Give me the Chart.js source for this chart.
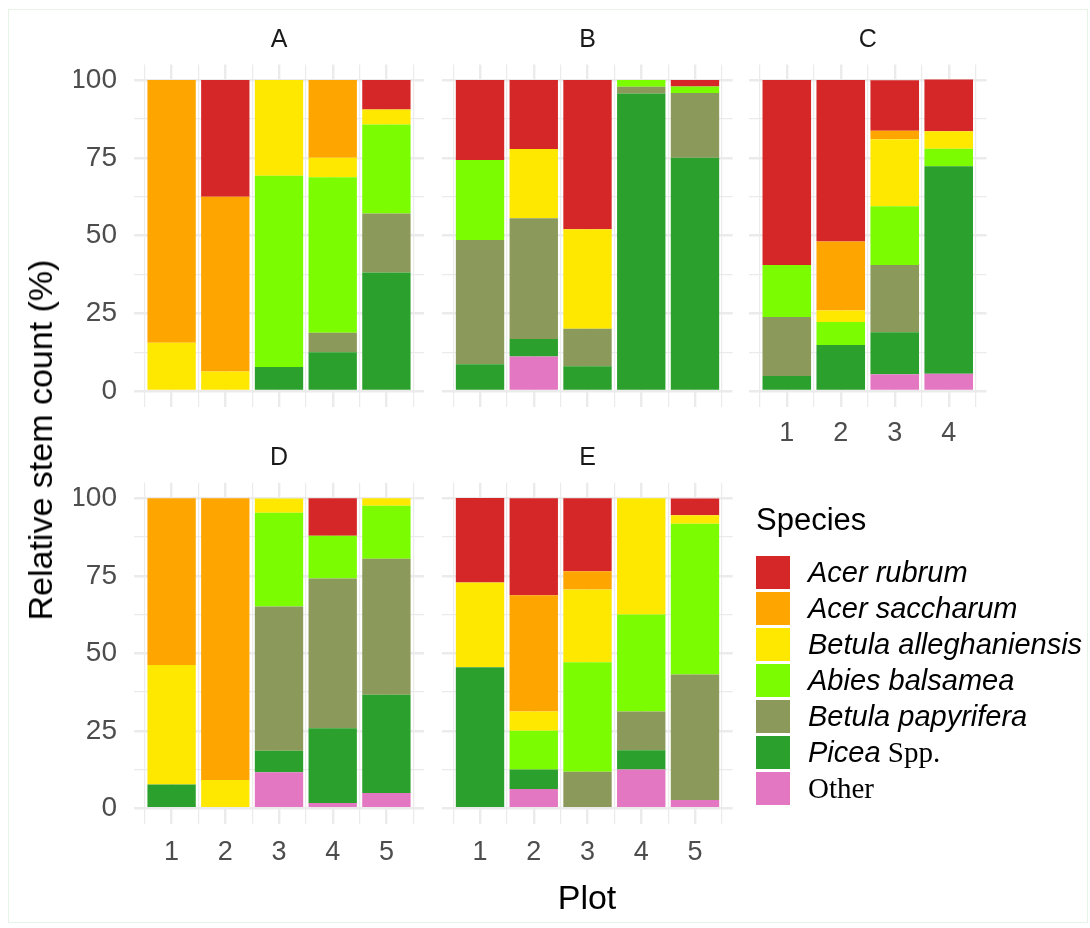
<!DOCTYPE html>
<html>
<head>
<meta charset="utf-8">
<script src="https://cdn.jsdelivr.net/npm/chart.js@4.4.1/dist/chart.umd.min.js"></script>
<style>
  body { margin: 0; background: #fff; }
  #wrap { position: relative; width: 1090px; height: 928px; overflow: hidden; font-family: "Liberation Sans", Arial, sans-serif; }
  #frame { position: absolute; left: 8px; top: 9px; width: 1078px; height: 912px; border: 1px solid #e6f4e6; }
  canvas { position: absolute; left: 0; top: 0; }
  .lbl { position: absolute; white-space: nowrap; transform: translate(-50%, -50%); line-height: 1; }
  .strip { font-size: 25px; color: #1a1a1a; }
  .axtitle { font-size: 34px; color: #000; }
  #legend { position: absolute; left: 756px; top: 505px; }
  #legend .ttl { font-size: 31px; color: #000; height: 49px; line-height: 30px; }
  #legend .row { display: flex; align-items: center; height: 36px; }
  #legend .key { width: 34px; height: 33px; margin-right: 18px; }
  #legend .txt { font-size: 29px; color: #000; }
  #legend .txt i { font-family: "Liberation Sans", Arial, sans-serif; }
  #legend .txt span { font-family: "Liberation Serif", "Times New Roman", serif; }
</style>
</head>
<body>
<div id="wrap"><div id="frame"></div></div>
<script>
// facets and plots
const sites = ['A', 'B', 'C', 'D', 'E'];
const plots = [[1, 2, 3, 4, 5], [1, 2, 3, 4, 5], [1, 2, 3, 4], [1, 2, 3, 4, 5], [1, 2, 3, 4, 5]];

// species (legend order, top of the stack first)
const speciesItalic = ['Acer rubrum', 'Acer saccharum', 'Betula alleghaniensis', 'Abies balsamea', 'Betula papyrifera', 'Picea', ''];
const speciesRoman = ['', '', '', '', '', ' Spp.', 'Other'];
const speciesColors = ['#D62728', '#FFA500', '#FFE800', '#7CFC00', '#8B9A5B', '#2CA02C', '#E377C2'];

// relative stem count (%) per site, per plot
const acerRubrum = [[0, 37.5, 0, 0, 9.5], [25.7, 22.2, 48, 0, 2.1], [59.5, 51.9, 16.2, 16.7], [0, 0, 0, 12.1, 0], [27.3, 31.25, 23.5, 0, 5.4]];
const acerSaccharum = [[84.5, 56.25, 0, 25, 0], [0, 0, 0, 0, 0], [0, 22.2, 2.7, 0], [53.8, 90.9, 0, 0, 0], [0, 37.5, 5.9, 0, 0]];
const betulaAllegh = [[15.5, 6.25, 30.8, 6.25, 4.8], [0, 22.2, 32, 0, 0], [0, 3.7, 21.6, 5.6], [38.5, 9.1, 4.65, 0, 2.4], [27.3, 6.25, 23.5, 37.5, 2.7]];
const abiesBalsamea = [[0, 0, 61.5, 50, 28.6], [25.7, 0, 0, 2.2, 2.1], [16.7, 7.4, 18.9, 5.6], [0, 0, 30.2, 13.8, 17.1], [0, 12.5, 35.3, 31.25, 48.6]];
const betulaPapyrifera = [[0, 0, 0, 6.25, 19.0], [40, 38.9, 12, 2.2, 20.8], [19.05, 0, 21.6, 0], [0, 0, 46.5, 48.3, 43.9], [0, 0, 11.8, 12.5, 40.5]];
const picea = [[0, 0, 7.7, 12.5, 38.1], [8.6, 5.6, 8, 95.65, 75], [4.8, 14.8, 13.5, 66.7], [7.7, 0, 7, 24.1, 31.7], [45.5, 6.25, 0, 6.25, 0]];
const other = [[0, 0, 0, 0, 0], [0, 11.1, 0, 0, 0], [0, 0, 5.4, 5.6], [0, 0, 11.6, 1.7, 4.9], [0, 6.25, 0, 12.5, 2.7]];
const seriesValues = [acerRubrum, acerSaccharum, betulaAllegh, abiesBalsamea, betulaPapyrifera, picea, other];

const yTickLabels = [0, 25, 50, 75, 100];

// panel placement in the page
const panelBoxes = [
  { L: 134, R: 424, T: 64.5, B: 406.6, yLab: true, xLab: false },
  { L: 442.4, R: 732.6, T: 64.5, B: 406.6, yLab: false, xLab: false },
  { L: 749, R: 986.5, T: 64.5, B: 406.6, yLab: false, xLab: true },
  { L: 134, R: 424, T: 482.8, B: 823.8, yLab: true, xLab: true },
  { L: 442.4, R: 732.6, T: 482.8, B: 823.8, yLab: false, xLab: true }
];

const W = 1090, H = 928;
const YAXIS_W = 60, XAXIS_H = 50;
const GRID = '#EBEBEB';
const wrap = document.getElementById('wrap');

function makeLabel(text, x, y, cls, rotate) {
  const d = document.createElement('div');
  d.className = 'lbl ' + cls;
  d.textContent = text;
  d.style.left = x + 'px';
  d.style.top = y + 'px';
  if (rotate) d.style.transform = 'translate(-50%, -50%) rotate(-90deg)';
  wrap.appendChild(d);
}

function initPanel(p) {
  const box = panelBoxes[p];
  const canvas = document.createElement('canvas');
  canvas.width = W;
  canvas.height = H;
  wrap.appendChild(canvas);

  const n = plots[p].length;
  const datasets = [];
  for (let s = seriesValues.length - 1; s >= 0; s--) {
    datasets.push({
      label: speciesItalic[s] + speciesRoman[s],
      data: plots[p].map((pl, i) => ({ x: pl, y: seriesValues[s][p][i] })),
      backgroundColor: speciesColors[s],
      borderWidth: 0,
      // ruler step is the half-unit grid, so 2 x 0.9 gives a bar 0.9 plot wide
      barPercentage: 0.9,
      categoryPercentage: 2
    });
  }

  new Chart(canvas, {
    type: 'bar',
    data: { datasets: datasets },
    options: {
      responsive: false,
      animation: false,
      devicePixelRatio: 1,
      layout: {
        padding: {
          left: box.L - YAXIS_W,
          right: W - box.R,
          top: box.T,
          bottom: H - box.B - XAXIS_H
        }
      },
      plugins: {
        legend: { display: false },
        tooltip: { enabled: false }
      },
      scales: {
        x: {
          type: 'linear',
          stacked: true,
          offset: false,
          min: 0.3,
          max: n + 0.7,
          border: { display: false },
          grid: {
            offset: false,
            color: GRID,
            drawTicks: false,
            lineWidth: ctx => (ctx.tick && Number.isInteger(ctx.tick.value)) ? 2.4 : 1.2
          },
          ticks: {
            display: box.xLab,
            stepSize: 0.5,
            includeBounds: false,
            autoSkip: false,
            maxRotation: 0,
            padding: p === 2 ? 11 : 13,
            color: '#4D4D4D',
            font: { family: 'Liberation Sans', size: 27 },
            callback: v => Number.isInteger(v) ? String(v) : ''
          },
          afterFit: s => { s.height = XAXIS_H; }
        },
        y: {
          stacked: true,
          min: -5,
          max: 105,
          border: { display: false },
          grid: {
            color: GRID,
            drawTicks: false,
            lineWidth: ctx => (ctx.tick && ctx.tick.value % 25 === 0) ? 2.4 : 1.2
          },
          ticks: {
            display: box.yLab,
            stepSize: 12.5,
            includeBounds: false,
            autoSkip: false,
            padding: 17,
            color: '#4D4D4D',
            font: { family: 'Liberation Sans', size: 28 },
            callback: v => yTickLabels.includes(v) ? String(v) : ''
          },
          afterFit: s => { s.width = YAXIS_W; }
        }
      }
    }
  });

  makeLabel(sites[p], (box.L + box.R) / 2, box.T - 27, 'strip');
}

function buildLegend() {
  const lg = document.createElement('div');
  lg.id = 'legend';
  let html = '<div class="ttl">Species</div>';
  speciesItalic.forEach((name, i) => {
    const it = name ? `<i>${name}</i>` : '';
    const rm = speciesRoman[i] ? `<span>${speciesRoman[i]}</span>` : '';
    html += `<div class="row"><div class="key" style="background:${speciesColors[i]}"></div><div class="txt">${it}${rm}</div></div>`;
  });
  lg.innerHTML = html;
  wrap.appendChild(lg);
}

document.addEventListener('DOMContentLoaded', () => {
  panelBoxes.forEach((b, p) => initPanel(p));
  makeLabel('Relative stem count (%)', 40, 440, 'axtitle', true);
  makeLabel('Plot', 587, 897, 'axtitle');
  buildLegend();
});
</script>
</body>
</html>
